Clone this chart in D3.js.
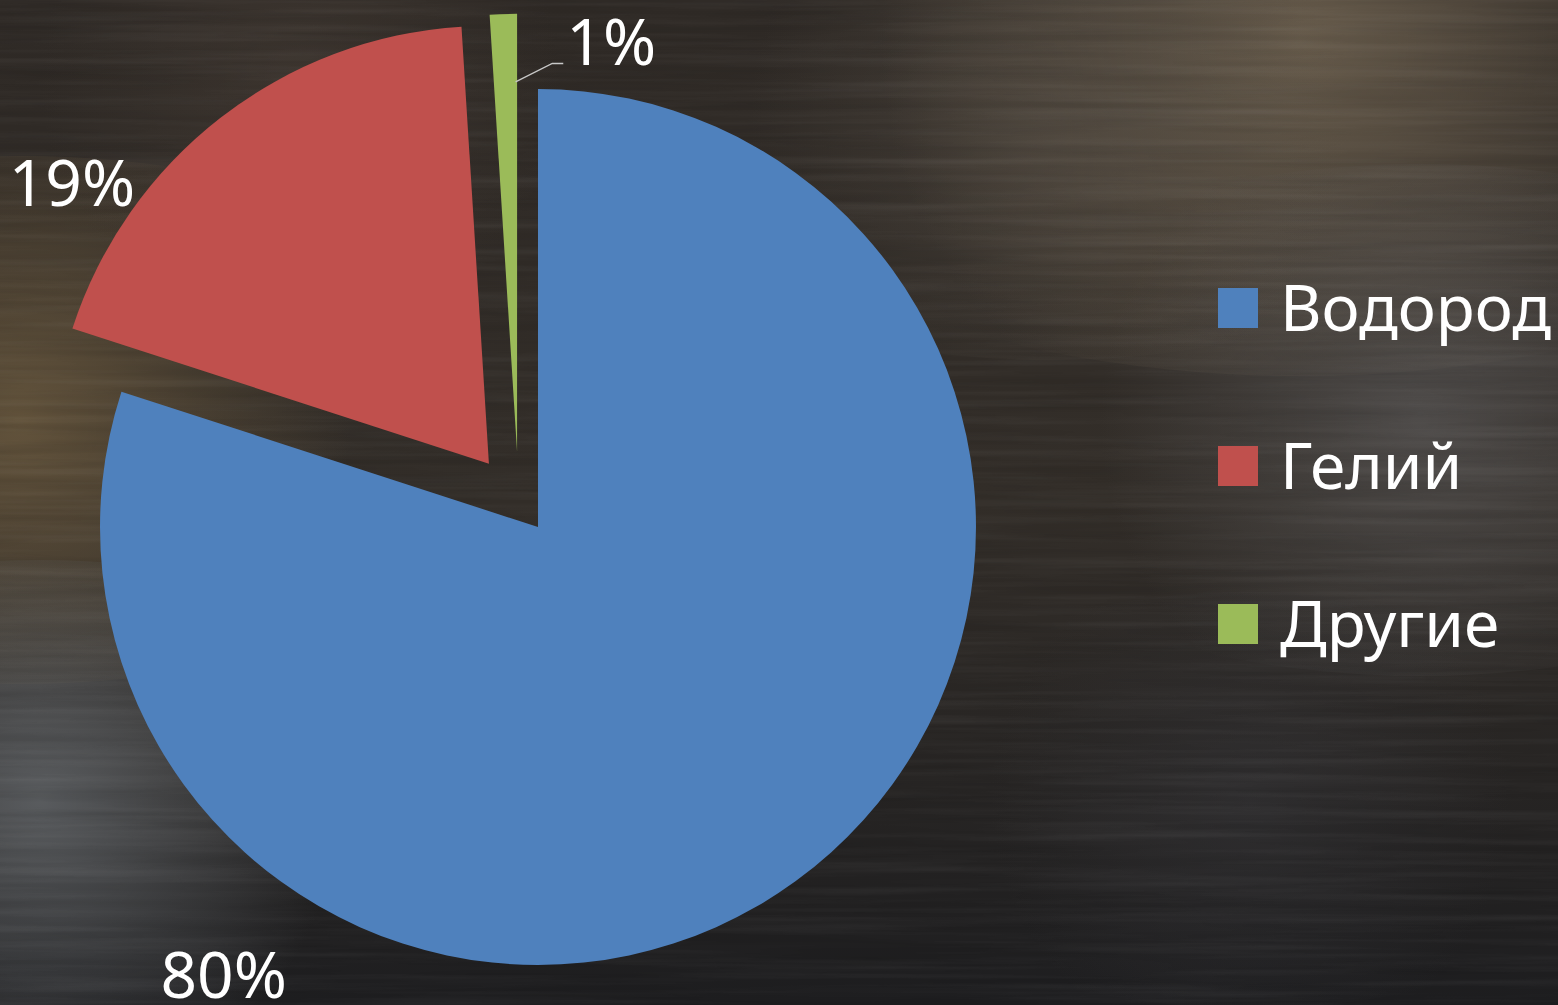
<!DOCTYPE html>
<html>
<head>
<meta charset="utf-8">
<script src="https://cdn.jsdelivr.net/npm/d3@7"></script>
<style>
  html, body { margin: 0; padding: 0; background: #2a2724; overflow: hidden; }
  svg { display: block; }
</style>
</head>
<body>
<svg id="chart" width="1558" height="1005"></svg>
<script>
// chart data
var categories = ["Водород", "Гелий", "Другие"];
var values = [80, 19, 1];
var labels = ["80%", "19%", "1%"];
var colors = ["#4f81bd", "#c0504d", "#9bbb59"];

// layout
var width = 1558, height = 1005;
var cx = 538, cy = 527, radius = 438;
var explodeDist = [0, 80, 78];
var explodeTurn = [0, 0, -0.24];          // green slice is pushed a bit more to the left
var labelRadius = [548, 579, 490];
var labelAngle = [215, 306.4, 8.6];       // degrees, clockwise from top

var svg = d3.select("#chart");
var defs = svg.append("defs");

// --- background: dark brushed texture ---
function radial(id, cxp, cyp, r, color, op) {
  var g = defs.append("radialGradient").attr("id", id)
    .attr("cx", cxp).attr("cy", cyp).attr("r", r)
    .attr("gradientUnits", "userSpaceOnUse");
  g.append("stop").attr("offset", 0).attr("stop-color", color).attr("stop-opacity", op);
  g.append("stop").attr("offset", 1).attr("stop-color", color).attr("stop-opacity", 0);
}
var base = defs.append("linearGradient").attr("id", "base")
  .attr("x1", 0).attr("y1", 0).attr("x2", 0).attr("y2", 1);
base.append("stop").attr("offset", 0).attr("stop-color", "#2f2a26");
base.append("stop").attr("offset", 0.5).attr("stop-color", "#332e29");
base.append("stop").attr("offset", 1).attr("stop-color", "#1e1e20");

svg.append("rect").attr("width", width).attr("height", height).attr("fill", "url(#base)");

var glows = [
  ["g1", 1300, 40, 420, "#7a6c58", 0.75],
  ["g2", 20, 420, 330, "#6e5c40", 0.8],
  ["g3", 40, 800, 300, "#6a6e72", 0.75],
  ["g4", 1420, 420, 320, "#5e5c5c", 0.65],
  ["g5", 1050, 120, 300, "#5c544a", 0.5],
  ["g6", 300, 80, 260, "#4a4038", 0.5],
  ["g7", 1250, 800, 260, "#3a3a3e", 0.45]
];
glows.forEach(function(g) {
  radial(g[0], g[1], g[2], g[3], g[4], g[5]);
  svg.append("ellipse")
    .attr("cx", g[1]).attr("cy", g[2]).attr("rx", g[3] * 1.6).attr("ry", g[3] * 0.8)
    .attr("fill", "url(#" + g[0] + ")");
});

// horizontal streaks
var streak = defs.append("filter").attr("id", "streak")
  .attr("x", 0).attr("y", 0).attr("width", 1).attr("height", 1);
streak.append("feTurbulence").attr("type", "fractalNoise")
  .attr("baseFrequency", "0.003 0.12").attr("numOctaves", 3).attr("seed", 7);
streak.append("feColorMatrix").attr("type", "matrix")
  .attr("values", "0 0 0 0 1  0 0 0 0 1  0 0 0 0 1  0.9 0 0 0 -0.38");
svg.append("rect").attr("width", width).attr("height", height)
  .attr("filter", "url(#streak)").attr("opacity", 0.11);

var dark = defs.append("filter").attr("id", "streakDark")
  .attr("x", 0).attr("y", 0).attr("width", 1).attr("height", 1);
dark.append("feTurbulence").attr("type", "fractalNoise")
  .attr("baseFrequency", "0.004 0.09").attr("numOctaves", 2).attr("seed", 3);
dark.append("feColorMatrix").attr("type", "matrix")
  .attr("values", "0 0 0 0 0  0 0 0 0 0  0 0 0 0 0  0.9 0 0 0 -0.35");
svg.append("rect").attr("width", width).attr("height", height)
  .attr("filter", "url(#streakDark)").attr("opacity", 0.2);

// --- pie ---
var pie = d3.pie().sort(null).startAngle(0).endAngle(2 * Math.PI);
var arc = d3.arc().innerRadius(0).outerRadius(radius);
var arcs = pie(values);

function polar(angle, r) {
  return [Math.sin(angle) * r, -Math.cos(angle) * r];
}

var slices = svg.append("g").attr("transform", "translate(" + cx + "," + cy + ")");
slices.selectAll("path")
  .data(arcs)
  .join("path")
  .attr("d", arc)
  .attr("fill", function(d, i) { return colors[i]; })
  .attr("transform", function(d, i) {
    var mid = (d.startAngle + d.endAngle) / 2 + explodeTurn[i];
    var p = polar(mid, explodeDist[i]);
    return "translate(" + p[0] + "," + p[1] + ")";
  });

// leader line for the small slice
var g = arcs[2];
var gMid = (g.startAngle + g.endAngle) / 2 + explodeTurn[2];
var gOff = polar(gMid, explodeDist[2]);
var gEdge = polar(g.endAngle - 0.004, radius - 68);
var lp = polar(labelAngle[2] * Math.PI / 180, labelRadius[2]);
slices.append("polyline")
  .attr("points", [
    [gOff[0] + gEdge[0], gOff[1] + gEdge[1]],
    [lp[0] - 59, lp[1] + 21],
    [lp[0] - 48, lp[1] + 21]
  ].map(function(p) { return p.join(","); }).join(" "))
  .attr("fill", "none")
  .attr("stroke", "#c8c8c8")
  .attr("stroke-width", 1.3);

// data labels
slices.selectAll("text.lbl")
  .data(arcs)
  .join("text")
  .attr("class", "lbl")
  .attr("x", function(d, i) { return polar(labelAngle[i] * Math.PI / 180, labelRadius[i])[0]; })
  .attr("y", function(d, i) { return polar(labelAngle[i] * Math.PI / 180, labelRadius[i])[1]; })
  .attr("dy", "0.35em")
  .attr("text-anchor", "middle")
  .style("font-family", "'Noto Sans', 'Open Sans', sans-serif")
  .style("font-size", "64px")
  .style("fill", "#ffffff")
  .text(function(d, i) { return labels[i]; });

// --- legend ---
var legend = svg.append("g").attr("transform", "translate(1218,288)");
var rows = legend.selectAll("g")
  .data(categories)
  .join("g")
  .attr("transform", function(d, i) { return "translate(0," + (i * 158) + ")"; });
rows.append("rect")
  .attr("width", 40).attr("height", 40)
  .attr("fill", function(d, i) { return colors[i]; });
rows.append("text")
  .attr("x", 62).attr("y", 43)
  .style("font-family", "'Noto Sans', 'Open Sans', sans-serif")
  .style("font-size", "64px")
  .style("fill", "#ffffff")
  .text(function(d) { return d; });
</script>
</body>
</html>
